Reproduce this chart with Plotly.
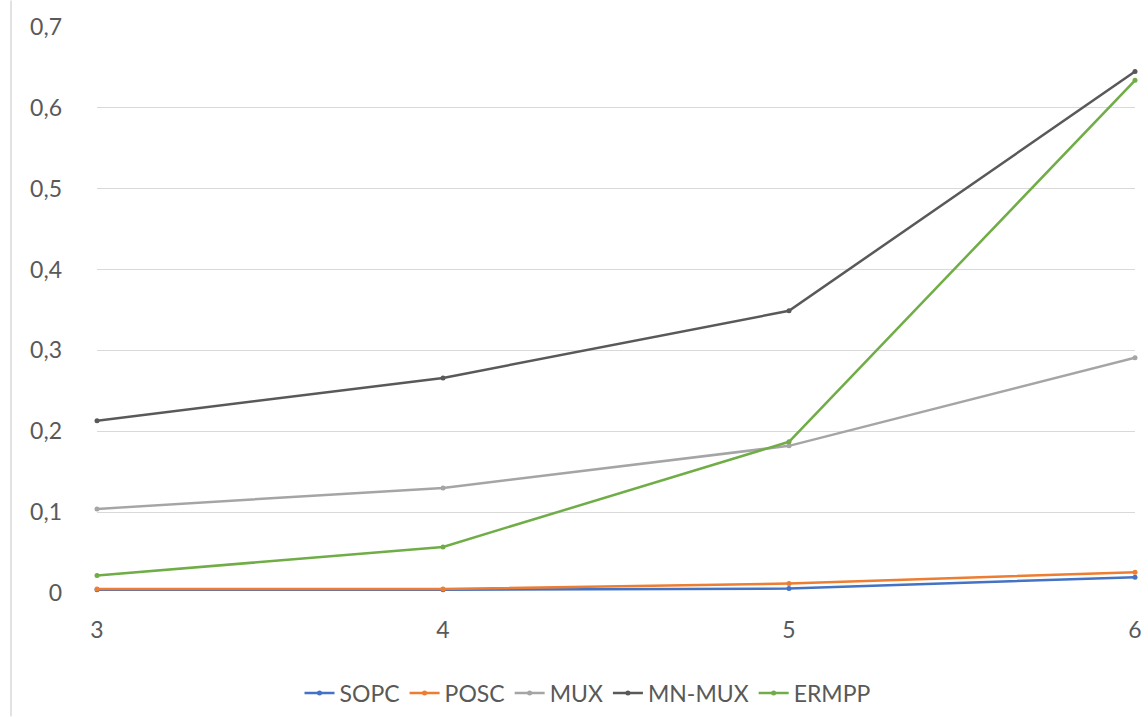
import plotly.graph_objects as go

# Problem sizes (x axis)
sizes = [3, 4, 5, 6]

# Measured values per method
sopc = [0.004, 0.004, 0.0055, 0.0195]
posc = [0.005, 0.005, 0.0117, 0.0257]
mux = [0.104, 0.130, 0.182, 0.291]
mn_mux = [0.213, 0.266, 0.349, 0.645]
ermpp = [0.0216, 0.057, 0.187, 0.634]

y_ticks = [0, 0.1, 0.2, 0.3, 0.4, 0.5, 0.6, 0.7]

series = [
    ("SOPC", sopc, "#4472C4"),
    ("POSC", posc, "#ED7D31"),
    ("MUX", mux, "#A5A5A5"),
    ("MN-MUX", mn_mux, "#595959"),
    ("ERMPP", ermpp, "#70AD47"),
]

fig = go.Figure()
for name, vals, color in series:
    fig.add_trace(go.Scatter(
        x=sizes, y=vals, name=name, mode="lines+markers",
        line=dict(color=color, width=2.5),
        marker=dict(color=color, size=5),
        cliponaxis=False,
    ))

W, H = 1148, 717
left, right, top, bottom = 97, 13, 26.5, 123.5
plot_h = H - top - bottom

fig.update_layout(
    width=W, height=H,
    margin=dict(l=left, r=right, t=top, b=bottom, pad=0, autoexpand=False),
    paper_bgcolor="white", plot_bgcolor="white",
    separators=", ",
    font=dict(family="Lato, Open Sans, sans-serif", size=23, color="#595959"),
    showlegend=True,
    legend=dict(
        orientation="h", xanchor="center", yanchor="middle",
        xref="container", yref="container",
        x=588 / W, y=1 - 693 / H,
        font=dict(size=23, color="#595959"),
        itemwidth=30, tracegroupgap=0,
        bgcolor="rgba(0,0,0,0)",
    ),
    xaxis=dict(
        range=[3, 6], tickvals=sizes, ticktext=[str(s) for s in sizes],
        showgrid=False, zeroline=False, showline=False,
        ticks="", ticklabelstandoff=21, automargin=False,
    ),
    yaxis=dict(
        range=[0, 0.7], tickvals=y_ticks,
        showgrid=True, gridcolor="#D9D9D9", gridwidth=1,
        zeroline=False, showline=False, ticks="",
        ticklabelstandoff=34, automargin=False,
    ),
)

# Thin frame edge on the left side of the chart area
fig.add_shape(type="line", xref="paper", yref="paper",
              x0=-(left - 11) / (W - left - right), x1=-(left - 11) / (W - left - right),
              y0=-bottom / plot_h, y1=1 + top / plot_h,
              line=dict(color="#D9D9D9", width=1.5))

fig.write_html("out.html")
